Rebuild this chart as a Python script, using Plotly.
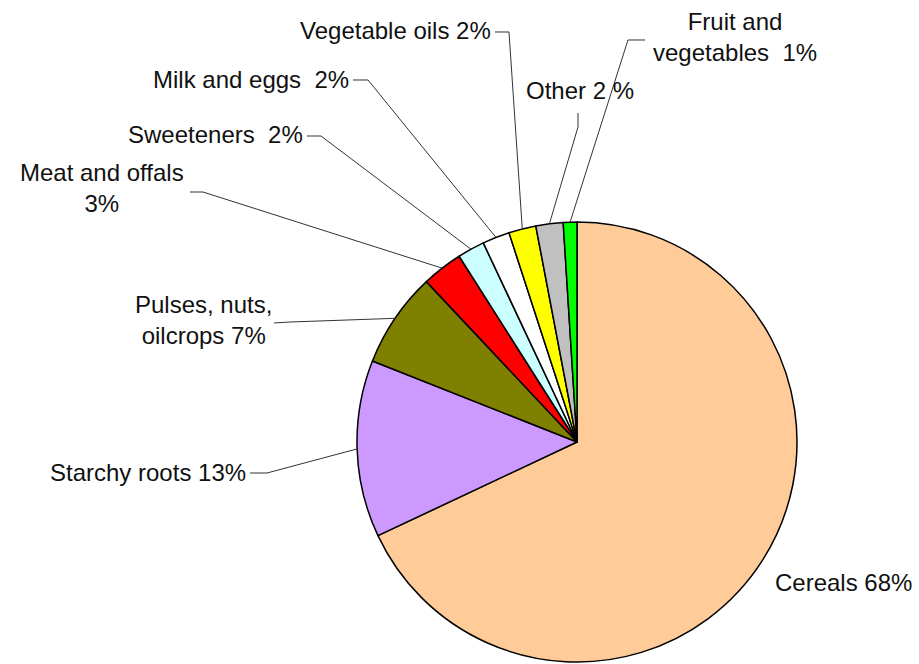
import math
import plotly.graph_objects as go

# Food groups and their share of dietary energy (%)
categories = ["Cereals", "Starchy roots", "Pulses, nuts, oilcrops", "Meat and offals",
              "Sweeteners", "Milk and eggs", "Vegetable oils", "Other", "Fruit and vegetables"]
shares = [68, 13, 7, 3, 2, 2, 2, 2, 1]
label_texts = ["Cereals 68%", "Starchy roots 13%", "Pulses, nuts,<br>oilcrops 7%",
               "Meat and offals<br>3%", "Sweeteners\u00a0\u00a02%", "Milk and eggs\u00a0\u00a02%",
               "Vegetable oils 2%", "Other 2 %", "Fruit and<br>vegetables\u00a0\u00a01%"]
colors = ["#FFCC99", "#CC99FF", "#808000", "#FF0000", "#CCFFFF",
          "#FFFFFF", "#FFFF00", "#C0C0C0", "#00FF00"]

W, H = 919, 664
CX, CY, R = 577, 442, 220          # pie centre and radius in pixels

def px(x):
    return x / W

def py(y):
    return 1 - y / H

# label placement: (x, y, xanchor) in pixels
label_pos = [
    (773, 582, "left"),
    (248, 472, "right"),
    (203, 320, "center"),
    (102, 188, "center"),
    (305, 135, "right"),
    (351, 80, "right"),
    (493, 30, "right"),
    (524, 90, "left"),
    (735, 37, "center"),
]

# leader-line elbows (label side first), None for no leader
leader_elbows = [
    None,
    [(250, 473), (267, 473)],
    [(274, 323), (290, 322)],
    [(190, 192), (203, 192)],
    [(307, 136), (321, 136)],
    [(353, 80), (368, 80)],
    [(495, 32), (509, 32)],
    [(578, 113), (578, 127)],
    [(645, 40), (628, 40)],
]

fig = go.Figure(go.Pie(
    labels=categories,
    values=shares,
    sort=False,
    direction="clockwise",
    rotation=0,
    marker=dict(colors=colors, line=dict(color="black", width=1.5)),
    textinfo="none",
    hoverinfo="label+percent",
    showlegend=False,
    domain=dict(x=[px(CX - R), px(CX + R)], y=[py(CY + R), py(CY - R)]),
))

total = sum(shares)
cum = 0
shapes = []
annotations = []
for i, v in enumerate(shares):
    mid = (cum + v / 2) / total * 2 * math.pi
    cum += v
    ex = CX + R * math.sin(mid)
    ey = CY - R * math.cos(mid)
    if leader_elbows[i]:
        pts = leader_elbows[i] + [(ex, ey)]
        path = "M " + " L ".join(f"{px(x):.5f},{py(y):.5f}" for x, y in pts)
        shapes.append(dict(type="path", xref="paper", yref="paper", path=path,
                           line=dict(color="#333333", width=1)))
    lx, ly, anchor = label_pos[i]
    annotations.append(dict(
        x=px(lx), y=py(ly), xref="paper", yref="paper",
        text=label_texts[i], showarrow=False,
        xanchor=anchor, yanchor="middle", align="center",
        font=dict(family="Liberation Sans, Arial, sans-serif", size=24, color="#111111"),
    ))

fig.update_layout(
    width=W, height=H,
    margin=dict(l=0, r=0, t=0, b=0),
    paper_bgcolor="white",
    plot_bgcolor="white",
    shapes=shapes,
    annotations=annotations,
)

fig.write_html("out.html")
